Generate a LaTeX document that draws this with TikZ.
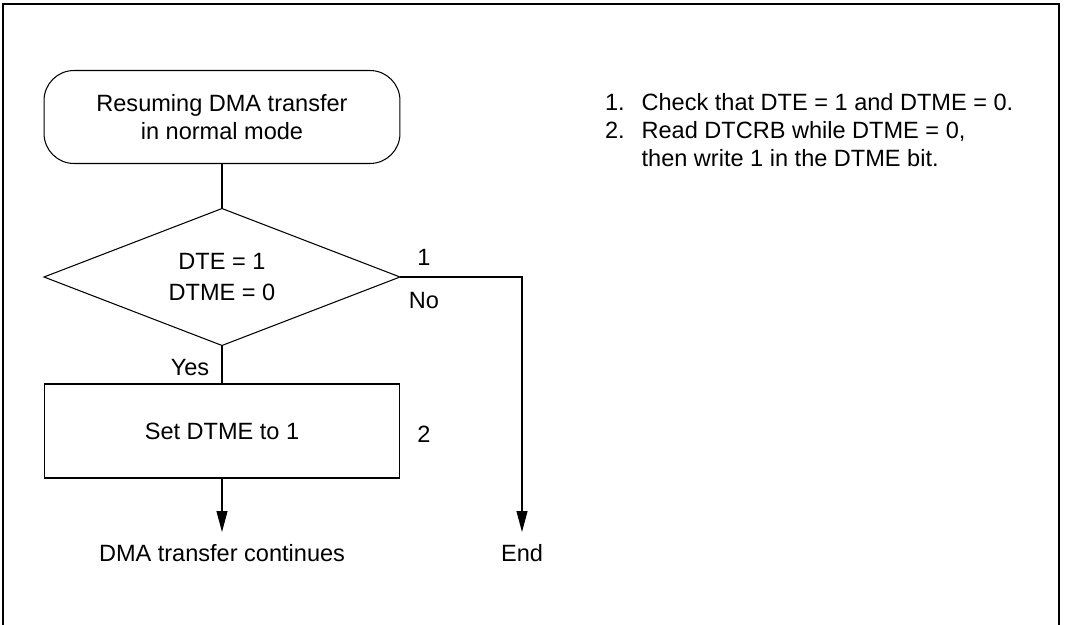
\documentclass[tikz,border=0pt]{standalone}
\usepackage{fontspec}
\setmainfont{Liberation Sans}
\usepackage{tikz}
\usetikzlibrary{positioning, arrows.meta, shapes.geometric}

\tikzset{
    box/.style={draw, line width=0.6pt, inner sep=0pt, outer sep=0pt, align=center},
    lbl/.style={inner sep=0pt, outer sep=0pt},
    flow/.style={line width=0.6pt},
    flowarrow/.style={line width=0.6pt, -{Triangle[length=0.42cm, width=0.22cm]}},
}

\begin{document}
\begin{tikzpicture}[x=0.02cm, y=-0.02cm, font=\fontsize{13.4}{15.8}\selectfont]
    \useasboundingbox (0,0) rectangle (1065,625);

    % Frame
    \draw[line width=0.8pt] (3,625) -- (3,4) -- (1059,4) -- (1059,625);

    % Flow nodes
    \node[box, rounded corners=0.6cm, minimum width=7.12cm, minimum height=1.86cm] (start) at (222,117)
        {Resuming DMA transfer\\in normal mode};
    \node[box, diamond, aspect=2.6, minimum width=7.12cm, minimum height=2.74cm] (check) at (222,277)
        {DTE = 1\\[1.5pt]DTME = 0};
    \node[box, minimum width=7.12cm, minimum height=1.88cm] (setbit) at (222,431) {Set DTME to 1};

    % End nodes
    \node[lbl, anchor=north, inner ysep=6.8pt] (cont) at (222,532) {DMA transfer continues};
    \node[lbl, anchor=north, inner ysep=6.8pt] (finish) at (522,532) {End};

    % Connectors
    \draw[flow] (start) -- (check);
    \draw[flow] (check) -- (setbit);
    \draw[flowarrow] (setbit) -- (cont);
    \draw[flowarrow] (check.east) -| (finish.north);

    % Branch labels and step numbers
    \foreach \x/\y/\txt in {190/368/Yes, 424/301/No, 424/257/1, 424/434/2} {
        \node[lbl] at (\x,\y) {\txt};
    }

    % Notes
    \node[lbl, anchor=base west] (notes) at (605,111) {%
        \begin{tabular}[t]{@{}l@{\hspace{0.34cm}}l@{}}
            1. & Check that DTE = 1 and DTME = 0.\\
            2. & Read DTCRB while DTME = 0,\\
               & then write 1 in the DTME bit.
        \end{tabular}};
\end{tikzpicture}
\end{document}
